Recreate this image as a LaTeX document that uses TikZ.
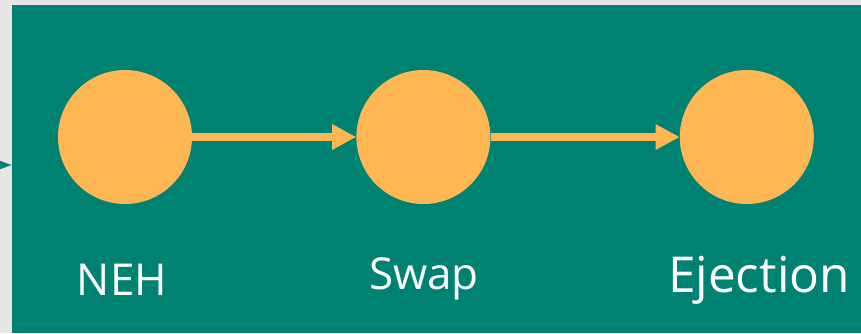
\documentclass[tikz,border=0pt]{standalone}
\usepackage{fontspec}
\setmainfont{Open Sans}
\usetikzlibrary{arrows.meta,positioning}
\definecolor{paper}{HTML}{E6E6E6}
\definecolor{frame}{HTML}{008272}
\definecolor{amber}{HTML}{FFB753}

\begin{document}
\begin{tikzpicture}[
  x=1pt,y=-1pt,
  node distance=164pt,
  stage/.style={circle,fill=amber,minimum size=134pt,inner sep=0pt},
  lbl/.style={text=white,anchor=base,inner sep=0pt,font=\fontsize{44}{52}\selectfont},
  arrow/.style={-{Triangle[length=24pt,width=24pt]},line width=8pt,draw=amber}
]
\useasboundingbox (0,0) rectangle (861,333);
\clip (0,0) rectangle (861,333);
\fill[paper] (0,0) rectangle (861,333);
\fill[frame] (12,5) rectangle (861,333);
\node[stage] (neh) at (125,137) {};
\node[stage,right=of neh] (swap) {};
\node[stage,right=189pt of swap] (eject) {};
\node[lbl] (nehlbl) at (122,295) {NEH};
\node[lbl] (swaplbl) at (424,289) {Swap};
\node[lbl,font=\fontsize{49.5}{58}\selectfont] (ejectlbl) at (759,292) {Ejection};
\coordinate (feed) at (-30,165);
\coordinate (entry) at (12,165);
\draw[-{Triangle[length=24pt,width=16pt]},line width=4pt,draw=frame] (feed) -- (entry);
\draw[arrow] (neh) -- (swap);
\draw[arrow] (swap) -- (eject);
\end{tikzpicture}
\end{document}
